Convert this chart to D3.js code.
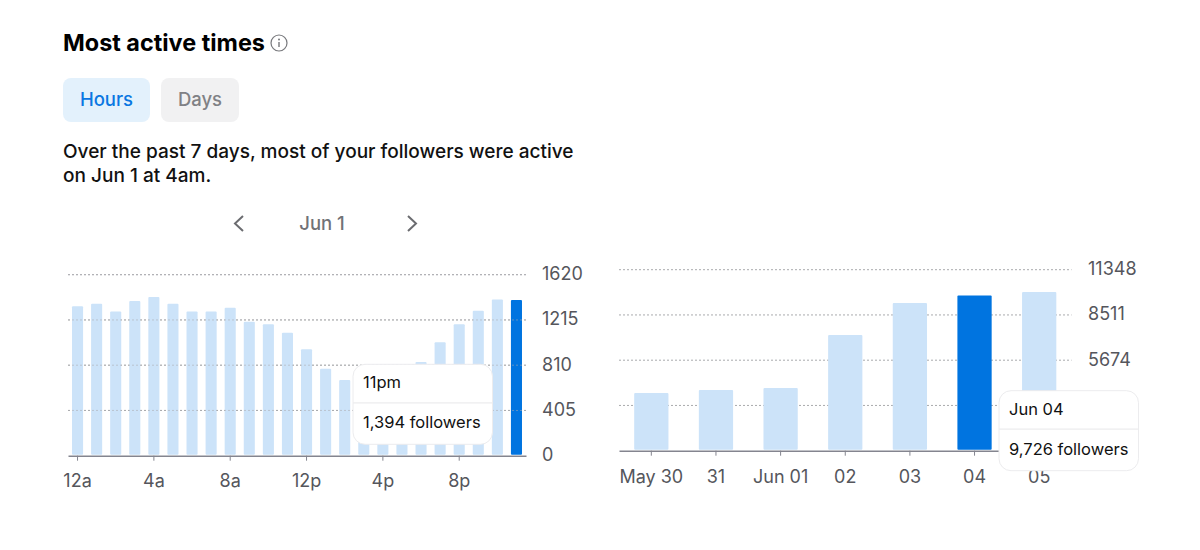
<!DOCTYPE html>
<html>
<head>
<meta charset="utf-8">
<script src="https://cdn.jsdelivr.net/npm/d3@7"></script>
<style>
  html, body { margin: 0; background: #fff; }
  svg { display: block; font-family: Inter, "Noto Sans", sans-serif; }
</style>
</head>
<body>
<svg id="chart" width="1200" height="550"></svg>
<script>
const hourLabels = ['12a','1a','2a','3a','4a','5a','6a','7a','8a','9a','10a','11a','12p','1p','2p','3p','4p','5p','6p','7p','8p','9p','10p','11p'];
const hourValues = [1337,1361,1290,1385,1420,1361,1290,1290,1325,1200,1176,1101,952,779,678,640,660,720,839,1015,1176,1298,1397,1394];
const hourTicks = ['12a','4a','8a','12p','4p','8p'];
const hourGrid = [0,405,810,1215,1620];

const dayLabels = ['May 30','31','Jun 01','02','03','04','05'];
const dayValues = [3618,3806,3930,7254,9260,9726,9950];
const dayGrid = [0,2837,5674,8511,11348];
// the lower two labels sit behind the tooltip in the reference
const dayGridLabels = [5674,8511,11348];

const svg = d3.select('#chart');
const LIGHT = '#cce3f9', BLUE = '#0074e0', GREY = '#55565c';

// header
svg.append('text').attr('x', 63).attr('y', 51).attr('font-size', 23.4).attr('font-weight', 700)
  .attr('fill', '#000').text('Most active times');
const info = svg.append('g').attr('transform', 'translate(279,43)');
info.append('circle').attr('r', 8).attr('fill', 'none').attr('stroke', '#77787c').attr('stroke-width', 1.2);
info.append('circle').attr('cy', -3.4).attr('r', 1).attr('fill', '#77787c');
info.append('line').attr('y1', -1).attr('y2', 4).attr('stroke', '#77787c').attr('stroke-width', 1.4);

svg.append('rect').attr('x', 63).attr('y', 78).attr('width', 87).attr('height', 44).attr('rx', 8).attr('fill', '#e3f1fc');
svg.append('text').attr('x', 106.5).attr('y', 106).attr('text-anchor', 'middle').attr('font-size', 18.5).attr('font-weight', 500)
  .attr('fill', '#0a77e2').text('Hours');
svg.append('rect').attr('x', 161).attr('y', 78).attr('width', 78).attr('height', 44).attr('rx', 8).attr('fill', '#f1f1f2');
svg.append('text').attr('x', 200).attr('y', 106).attr('text-anchor', 'middle').attr('font-size', 18.5).attr('font-weight', 500)
  .attr('fill', '#808185').text('Days');

svg.append('text').attr('x', 63).attr('y', 158).attr('font-size', 19.05).attr('font-weight', 500).attr('fill', '#111')
  .text('Over the past 7 days, most of your followers were active');
svg.append('text').attr('x', 63).attr('y', 182).attr('font-size', 19.05).attr('font-weight', 500).attr('fill', '#111')
  .text('on Jun 1 at 4am.');

// date switcher
svg.append('path').attr('d', 'M243,216 L235,223.5 L243,231').attr('fill', 'none').attr('stroke', '#6b6c70').attr('stroke-width', 2);
svg.append('path').attr('d', 'M408,216 L416,223.5 L408,231').attr('fill', 'none').attr('stroke', '#6b6c70').attr('stroke-width', 2);
svg.append('text').attr('x', 322).attr('y', 230).attr('text-anchor', 'middle').attr('font-size', 18.5).attr('font-weight', 500)
  .attr('fill', '#717276').text('Jun 1');

function drawChart(o) {
  const x = d3.scaleBand().domain(o.labels).range(o.xRange).padding(o.padding).paddingOuter(o.padding / 2);
  const y = d3.scaleLinear().domain([0, o.max]).range(o.yRange);
  const g = svg.append('g');

  g.selectAll('.grid').data(o.grid.filter(d => d > 0)).enter().append('line')
    .attr('x1', o.xRange[0]).attr('x2', o.xRange[1])
    .attr('y1', d => y(d)).attr('y2', d => y(d))
    .attr('stroke', '#a9aaad').attr('stroke-width', 1).attr('stroke-dasharray', '2 2');

  g.selectAll('.bar').data(o.values).enter().append('rect')
    .attr('x', (d, i) => x(o.labels[i]))
    .attr('y', d => y(d))
    .attr('width', x.bandwidth())
    .attr('height', d => y(0) - y(d) - 1)
    .attr('rx', 1)
    .attr('fill', (d, i) => i === o.active ? BLUE : LIGHT);

  // grid lines show faintly through the bars
  g.selectAll('.over').data(o.grid.filter(d => d > 0)).enter().append('line')
    .attr('x1', o.xRange[0]).attr('x2', o.xRange[1])
    .attr('y1', d => y(d)).attr('y2', d => y(d))
    .attr('stroke', '#a9aaad').attr('stroke-opacity', 0.55).attr('stroke-dasharray', '2 2')
    .attr('display', o.overlay ? null : 'none');

  const axis = d3.axisBottom(x).tickValues(o.ticks).tickSize(5).tickSizeOuter(0).tickPadding(o.tickPad);
  const ax = g.append('g').attr('transform', `translate(0,${y(0)})`).call(axis);
  ax.select('.domain').attr('stroke', '#84858f').attr('stroke-width', 1.4);
  ax.selectAll('.tick line').attr('stroke', '#84858f');
  ax.selectAll('.tick text').attr('font-size', 18).attr('fill', GREY).attr('font-family', 'Inter, "Noto Sans", sans-serif');

  g.selectAll('.ylab').data(o.yLabels).enter().append('text')
    .attr('x', o.yLabelX).attr('y', d => y(d) + 5.5)
    .attr('font-size', 18).attr('fill', GREY).text(d => d);

  // tooltip
  const t = o.tip;
  const tip = g.append('g').attr('transform', `translate(${t.x},${t.y})`);
  tip.append('rect').attr('width', 139.5).attr('height', 80).attr('rx', 12)
    .attr('fill', '#fff').attr('stroke', '#ececee').attr('stroke-width', 1);
  tip.append('line').attr('x1', 0).attr('x2', 139.5).attr('y1', 38.5).attr('y2', 38.5).attr('stroke', '#ececee').attr('stroke-width', 1.2);
  tip.append('text').attr('x', 10).attr('y', 24).attr('font-size', 16.5).attr('fill', '#111').text(t.title);
  tip.append('text').attr('x', 10).attr('y', 64).attr('font-size', 16.5).attr('fill', '#111').text(t.body);
}

drawChart({
  labels: hourLabels, values: hourValues, active: 23, ticks: hourTicks,
  grid: hourGrid, yLabels: hourGrid, max: 1620, overlay: true,
  xRange: [68, 526], yRange: [455.7, 274.7], padding: 0.42, yLabelX: 542, tickPad: 14,
  tip: { x: 353, y: 364.3, title: '11pm', body: '1,394 followers' }
});

drawChart({
  labels: dayLabels, values: dayValues, active: 5, ticks: dayLabels,
  grid: dayGrid, yLabels: dayGridLabels, max: 11348, overlay: false,
  xRange: [619, 1071.5], yRange: [450.7, 269.7], padding: 0.47, yLabelX: 1088, tickPad: 15,
  tip: { x: 999, y: 390.7, title: 'Jun 04', body: '9,726 followers' }
});
</script>
</body>
</html>
